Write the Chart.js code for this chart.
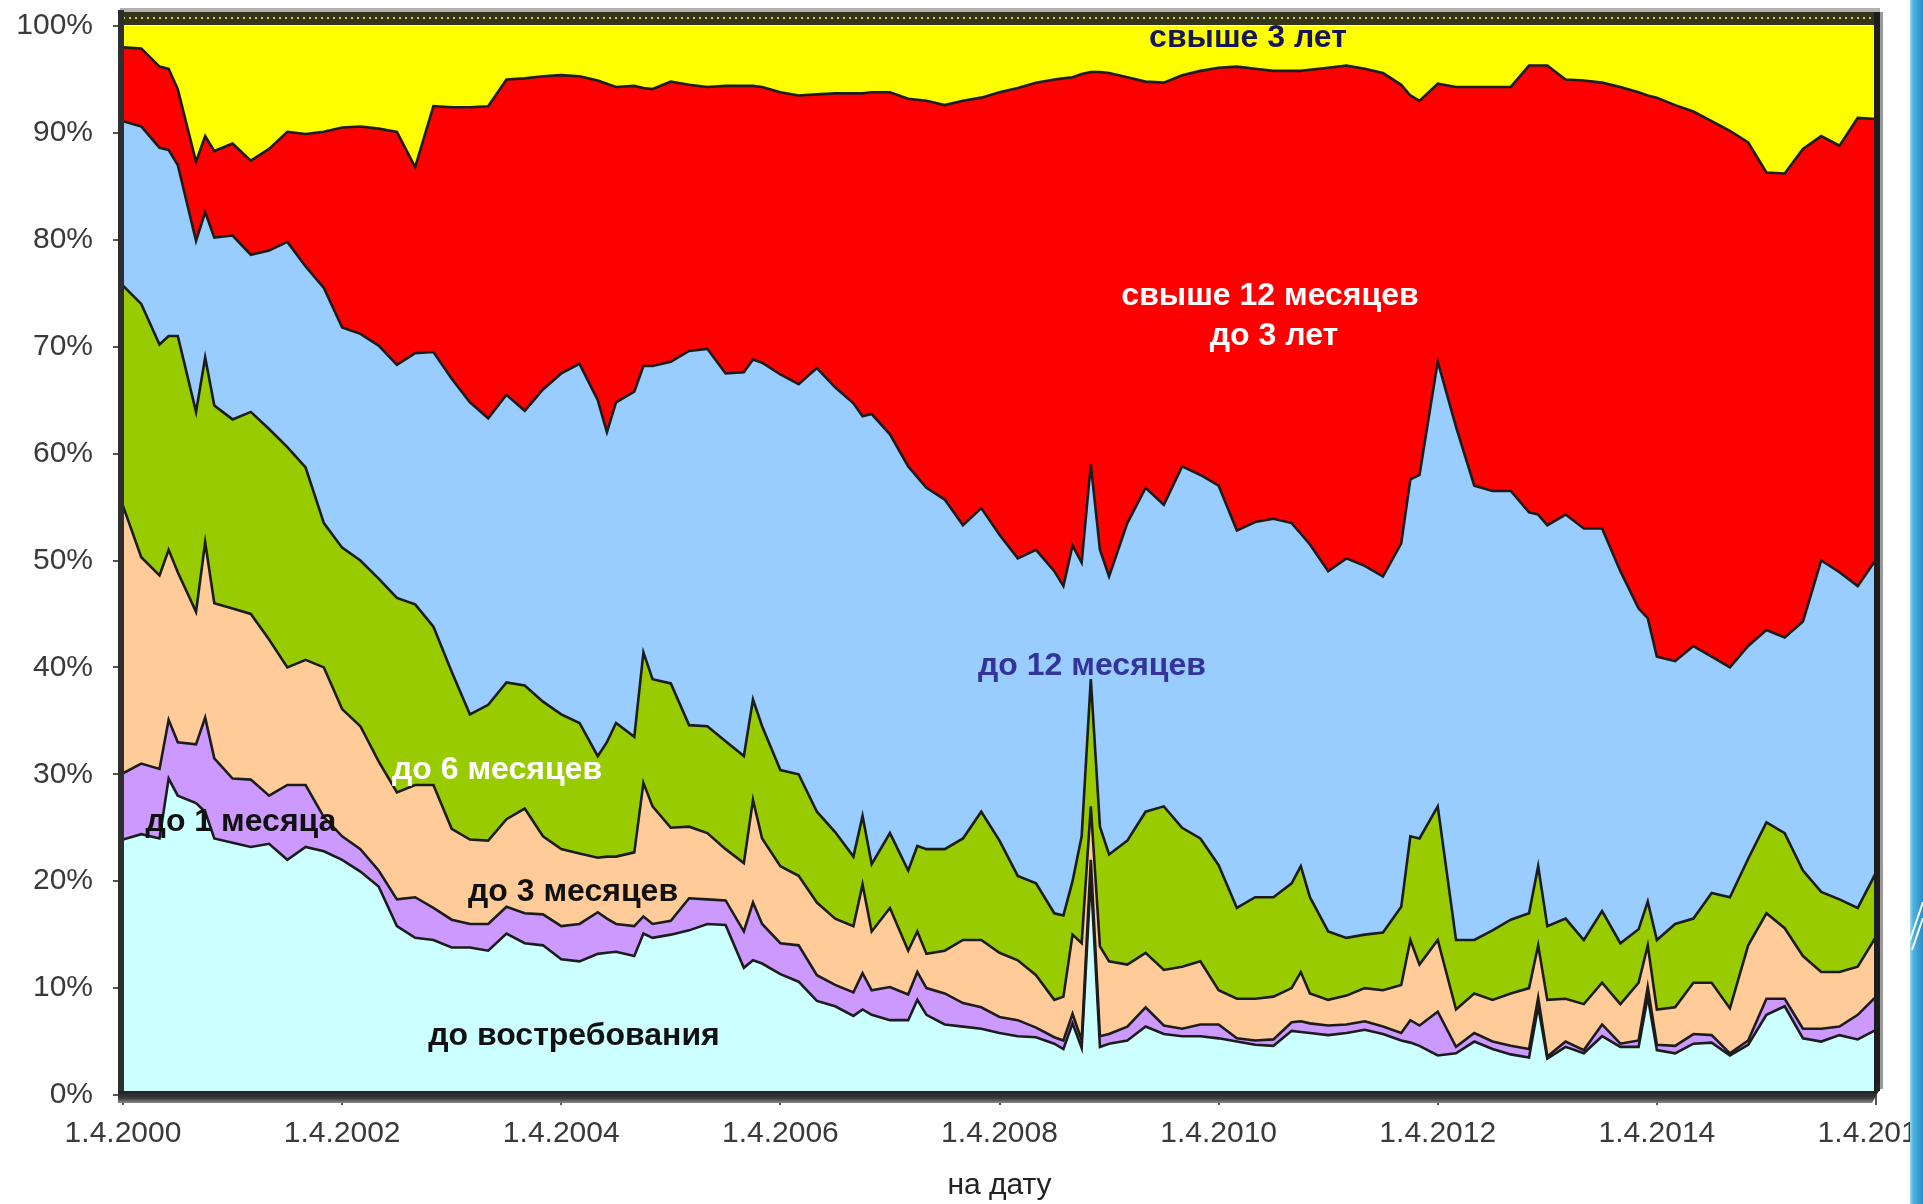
<!DOCTYPE html>
<html>
<head>
<meta charset="utf-8">
<script src="https://cdn.jsdelivr.net/npm/chart.js"></script>
<style>
  html, body { margin: 0; padding: 0; background: #fff; }
  body { width: 1923px; height: 1204px; position: relative; overflow: hidden; }
  #chart { position: absolute; left: 0; top: 0; }
  .edge { position: absolute; left: 1910px; top: 0; width: 13px; height: 1204px;
          background: linear-gradient(to right, #9adbf2 0px, #4fb3df 3px, #2a8bc4 13px); }
  .edge svg { position: absolute; left: 0; top: 0; }
</style>
</head>
<body>
<canvas id="chart" width="1923" height="1204" style="width:1923px;height:1204px"></canvas>
<div class="edge">
  <svg width="13" height="1204">
    <line x1="0" y1="940" x2="13" y2="902" stroke="#fff" stroke-width="2"/>
    <line x1="2" y1="950" x2="13" y2="918" stroke="#fff" stroke-width="2"/>
  </svg>
</div>
<script>
// months counted from 1.4.2000
const months = [0, 2, 4, 5, 6, 8, 9, 10,
  12, 14, 16, 18, 20, 22, 24, 26, 28, 30,
  32, 34, 36, 38, 40, 42, 44, 46, 48, 50,
  52, 53, 54, 56, 57, 58, 60, 62, 64, 66,
  68, 69, 70, 72, 74, 76, 78, 80, 81, 82,
  84, 86, 87, 88, 90, 92, 94, 96, 98, 100,
  102, 103, 104, 105, 106, 107, 108, 110, 112, 114,
  116, 118, 120, 122, 124, 126, 128, 129, 130, 132,
  134, 136, 138, 140, 141, 142, 144, 146, 148, 150,
  152, 154, 155, 156, 158, 160, 162, 164, 166, 167,
  168, 170, 172, 174, 176, 178, 180, 182, 184, 186,
  188, 190, 192];

const tickLabels = ['1.4.2000', '1.4.2002', '1.4.2004', '1.4.2006', '1.4.2008',
  '1.4.2010', '1.4.2012', '1.4.2014', '1.4.2016'];

const seriesNames = ['до востребования', 'до 1 месяца', 'до 3 месяцев', 'до 6 месяцев',
  'до 12 месяцев', 'свыше 12 месяцев до 3 лет', 'свыше 3 лет'];

// upper edge of each band, cumulative %
const uptoDemand = [23.9, 24.4, 24.0, 29.6, 28.0, 27.3, 26.5, 24.0,
  23.6, 23.2, 23.5, 22.0, 23.2, 22.8, 22.0, 20.9, 19.5, 15.8,
  14.7, 14.5, 13.8, 13.8, 13.5, 15.1, 14.2, 14.0, 12.7, 12.5,
  13.2, 13.3, 13.4, 13.0, 15.1, 14.7, 15.0, 15.4, 16.0, 15.9,
  11.9, 12.6, 12.3, 11.3, 10.6, 8.8, 8.3, 7.4, 8.0, 7.5,
  7.0, 7.0, 8.9, 7.5, 6.6, 6.4, 6.2, 5.8, 5.5, 5.4,
  4.8, 4.3, 6.7, 4.4, 20.5, 4.5, 4.8, 5.1, 6.4, 5.7,
  5.5, 5.5, 5.3, 5.0, 4.7, 4.6, 6.0, 5.9, 5.8, 5.6,
  5.8, 6.1, 5.7, 5.1, 4.9, 4.6, 3.7, 3.9, 5.0, 4.3,
  3.8, 3.5, 8.3, 3.4, 4.5, 3.9, 5.5, 4.5, 4.5, 9.2,
  4.2, 3.9, 4.8, 4.9, 3.7, 4.7, 7.5, 8.3, 5.3, 5.0,
  5.6, 5.2, 6.1];

const upto1m = [30.1, 31.0, 30.5, 35.1, 33.0, 32.8, 35.3, 31.5,
  29.6, 29.5, 28.0, 29.0, 29.0, 26.0, 24.2, 23.0, 21.0, 18.3,
  18.5, 17.5, 16.4, 16.0, 16.0, 17.6, 17.0, 16.9, 15.8, 16.0,
  17.1, 16.5, 16.0, 15.8, 16.7, 16.0, 16.3, 18.4, 18.3, 18.2,
  15.3, 18.0, 16.0, 14.2, 14.0, 11.2, 10.3, 9.6, 11.4, 9.8,
  10.1, 9.4, 11.5, 10.0, 9.5, 8.6, 8.2, 7.3, 7.0, 6.3,
  5.4, 5.1, 7.6, 5.1, 22.0, 5.5, 5.7, 6.4, 8.2, 6.5,
  6.2, 6.6, 6.6, 5.3, 5.1, 5.2, 6.8, 6.9, 6.7, 6.5,
  6.6, 6.9, 6.4, 5.8, 7.0, 6.5, 7.8, 4.5, 5.8, 5.0,
  4.6, 4.3, 9.1, 3.6, 5.0, 4.2, 6.6, 4.8, 5.1, 10.1,
  4.7, 4.6, 5.7, 5.6, 3.9, 5.1, 9.0, 9.0, 6.2, 6.2,
  6.4, 7.5, 9.2];

const upto3m = [55.1, 50.3, 48.6, 51.0, 48.9, 45.2, 51.7, 46.0,
  45.5, 45.0, 42.6, 40.0, 40.7, 40.0, 36.1, 34.5, 31.2, 28.3,
  29.0, 29.0, 24.9, 23.9, 23.8, 25.8, 26.8, 24.2, 23.0, 22.6,
  22.2, 22.3, 22.3, 22.7, 29.2, 27.0, 25.0, 25.1, 24.5, 23.0,
  21.7, 27.6, 24.0, 21.4, 20.5, 18.0, 16.5, 15.8, 19.7, 15.3,
  17.5, 13.5, 15.3, 13.2, 13.5, 14.5, 14.5, 13.3, 12.6, 11.2,
  8.9, 9.2, 15.0, 14.2, 27.0, 13.9, 12.5, 12.2, 13.3, 11.7,
  12.0, 12.5, 9.8, 9.0, 9.0, 9.2, 10.0, 11.5, 9.5, 8.9,
  9.3, 10.0, 9.8, 10.3, 14.5, 12.2, 14.5, 8.0, 9.5, 8.9,
  9.5, 10.0, 14.0, 8.9, 9.0, 8.5, 10.5, 8.5, 10.5, 14.0,
  8.0, 8.2, 10.5, 10.5, 8.1, 14.0, 17.0, 15.6, 13.0, 11.5,
  11.5, 12.0, 14.8];

const upto6m = [75.7, 74.0, 70.2, 71.0, 71.0, 63.9, 69.0, 64.5,
  63.2, 63.9, 62.3, 60.6, 58.7, 53.5, 51.2, 50.0, 48.3, 46.5,
  45.9, 43.8, 39.6, 35.6, 36.5, 38.6, 38.3, 36.8, 35.6, 34.8,
  31.7, 33.0, 34.8, 33.5, 41.4, 38.9, 38.5, 34.6, 34.5, 33.1,
  31.7, 37.0, 34.5, 30.4, 30.0, 26.5, 24.6, 22.3, 26.1, 21.6,
  24.5, 21.0, 23.3, 23.0, 23.0, 24.0, 26.5, 23.8, 20.5, 19.8,
  17.0, 16.8, 20.0, 24.2, 38.9, 25.1, 22.5, 23.8, 26.5, 27.0,
  25.0, 24.0, 21.5, 17.5, 18.5, 18.5, 19.8, 21.4, 18.5, 15.3,
  14.7, 15.0, 15.2, 17.6, 24.2, 24.0, 27.0, 14.5, 14.5, 15.4,
  16.4, 17.0, 21.4, 15.8, 16.5, 14.5, 17.2, 14.2, 15.5, 18.1,
  14.5, 16.0, 16.5, 18.9, 18.5, 22.1, 25.5, 24.5, 21.0, 19.0,
  18.3, 17.5, 20.8];

const upto12m = [91.1, 90.6, 88.6, 88.4, 87.0, 79.9, 82.6, 80.2,
  80.4, 78.6, 79.0, 79.8, 77.5, 75.5, 71.8, 71.2, 70.1, 68.3,
  69.4, 69.5, 67.0, 64.8, 63.3, 65.5, 64.0, 66.0, 67.5, 68.4,
  65.0, 62.0, 64.8, 65.8, 68.2, 68.2, 68.6, 69.6, 69.8, 67.5,
  67.6, 68.8, 68.5, 67.4, 66.5, 68.0, 66.2, 64.7, 63.5, 63.7,
  61.8, 58.8, 57.8, 56.8, 55.7, 53.3, 54.9, 52.4, 50.2, 51.0,
  49.0, 47.6, 51.4, 49.8, 59.0, 51.0, 48.5, 53.5, 56.8, 55.2,
  58.8, 58.0, 57.0, 52.8, 53.6, 53.9, 53.5, 52.5, 51.5, 49.0,
  50.2, 49.5, 48.5, 51.6, 57.6, 58.0, 68.6, 62.5, 57.0, 56.5,
  56.5, 54.5, 54.3, 53.3, 54.3, 53.0, 53.0, 49.0, 45.5, 44.6,
  41.0, 40.6, 42.0, 41.0, 40.0, 42.0, 43.5, 42.8, 44.3, 50.0,
  48.9, 47.6, 50.1];

const upto3y = [98.0, 97.9, 96.2, 96.0, 94.1, 87.3, 89.7, 88.3,
  89.0, 87.4, 88.5, 90.1, 89.9, 90.1, 90.5, 90.6, 90.4, 90.1,
  86.8, 92.5, 92.4, 92.4, 92.5, 95.0, 95.1, 95.3, 95.4, 95.3,
  94.9, 94.6, 94.3, 94.4, 94.2, 94.1, 94.8, 94.5, 94.3, 94.4,
  94.4, 94.4, 94.3, 93.8, 93.5, 93.6, 93.7, 93.7, 93.7, 93.8,
  93.8, 93.2, 93.1, 93.0, 92.6, 93.0, 93.3, 93.8, 94.2, 94.7,
  95.0, 95.1, 95.2, 95.5, 95.7, 95.7, 95.6, 95.2, 94.8, 94.7,
  95.4, 95.8, 96.1, 96.2, 96.0, 95.8, 95.8, 95.8, 95.9, 96.1,
  96.3, 96.0, 95.6, 94.5, 93.5, 93.0, 94.6, 94.3, 94.3, 94.3,
  94.3, 96.3, 96.3, 96.3, 95.0, 94.9, 94.7, 94.3, 93.8, 93.5,
  93.3, 92.6, 92.0, 91.1, 90.2, 89.1, 86.3, 86.2, 88.5, 89.7,
  88.8, 91.4, 91.3];

// the stack always closes at 100%
const total = months.map(() => 100);

const bandColors = ['#ccffff', '#cc99ff', '#ffcc99', '#99cc00', '#99ccff', '#ff0000', '#ffff00'];

// text written inside the bands
const areaLabels = [
  { text: 'свыше 3 лет', x: 1248, y: 38, color: '#15155a' },
  { text: 'свыше 12 месяцев', x: 1270, y: 296, color: '#ffffff' },
  { text: 'до 3 лет', x: 1274, y: 336, color: '#ffffff' },
  { text: 'до 12 месяцев', x: 1092, y: 666, color: '#333399' },
  { text: 'до 6 месяцев', x: 497, y: 770, color: '#ffffff' },
  { text: 'до 1 месяца', x: 241, y: 822, color: '#111111' },
  { text: 'до 3 месяцев', x: 573, y: 892, color: '#111111' },
  { text: 'до востребования', x: 574, y: 1036, color: '#111111' }
];

const levels = [uptoDemand, upto1m, upto3m, upto6m, upto12m, upto3y, total];
levels.forEach((arr, i) => {
  if (arr.length !== months.length) console.error('length mismatch', seriesNames[i], arr.length);
});

const datasets = levels.map((arr, i) => ({
  label: seriesNames[i],
  data: arr.map((v, k) => ({ x: months[k], y: v })),
  backgroundColor: bandColors[i],
  borderColor: '#1c1c1c',
  borderWidth: i === levels.length - 1 ? 0 : 2.6,
  fill: i === 0 ? 'origin' : '-1',
  pointRadius: 0,
  tension: 0
}));

// 3d-ish frame of the old excel chart + band captions
const frame = {
  id: 'frame',
  afterDatasetsDraw(chart) {
    const { ctx, chartArea: a } = chart;
    ctx.save();
    // top edge
    ctx.fillStyle = '#b0b0b0';
    ctx.fillRect(a.left - 3, a.top - 18, a.right - a.left + 7, 4);
    ctx.fillStyle = '#35351c';
    ctx.fillRect(a.left - 3, a.top - 14, a.right - a.left + 7, 13);
    ctx.strokeStyle = '#d6cf3a';
    ctx.lineWidth = 2;
    ctx.setLineDash([2, 4]);
    ctx.beginPath();
    ctx.moveTo(a.left, a.top - 8);
    ctx.lineTo(a.right, a.top - 8);
    ctx.stroke();
    ctx.setLineDash([]);
    // left wall
    ctx.fillStyle = '#2e2e2e';
    ctx.fillRect(a.left - 5, a.top - 16, 6, a.bottom - a.top + 23);
    // right wall
    ctx.fillStyle = '#1d1d1d';
    ctx.fillRect(a.right - 2, a.top - 14, 6, a.bottom - a.top + 10);
    ctx.fillStyle = '#9a9a9a';
    ctx.fillRect(a.right + 4, a.top - 14, 3, a.bottom - a.top + 8);
    // floor
    const g = ctx.createLinearGradient(0, a.bottom - 4, 0, a.bottom + 8);
    g.addColorStop(0, '#222');
    g.addColorStop(0.6, '#3a3a3a');
    g.addColorStop(1, '#8a8a8a');
    ctx.fillStyle = g;
    ctx.beginPath();
    ctx.moveTo(a.left - 5, a.bottom - 4);
    ctx.lineTo(a.right - 2, a.bottom - 4);
    ctx.lineTo(a.right + 4, a.bottom - 14);
    ctx.lineTo(a.right + 4, a.bottom - 6);
    ctx.lineTo(a.right - 4, a.bottom + 8);
    ctx.lineTo(a.left - 5, a.bottom + 8);
    ctx.closePath();
    ctx.fill();
    // captions
    ctx.font = 'bold 32px "Liberation Sans", Arial, sans-serif';
    ctx.textAlign = 'center';
    ctx.textBaseline = 'middle';
    areaLabels.forEach(l => {
      ctx.fillStyle = l.color;
      ctx.fillText(l.text, l.x, l.y);
    });
    ctx.restore();
  }
};

Chart.defaults.font.family = '"Liberation Sans", Arial, sans-serif';

new Chart(document.getElementById('chart'), {
  type: 'line',
  data: { datasets },
  options: {
    responsive: false,
    animation: false,
    devicePixelRatio: 1,
    layout: { padding: { left: 0, right: 47, top: 26, bottom: 0 } },
    plugins: {
      legend: { display: false },
      tooltip: { enabled: false },
      filler: { drawTime: 'beforeDatasetsDraw' }
    },
    scales: {
      x: {
        type: 'linear',
        min: 0,
        max: 192,
        afterBuildTicks: s => { s.ticks = tickLabels.map((_, i) => ({ value: i * 24 })); },
        ticks: {
          autoSkip: false,
          maxRotation: 0,
          padding: 11,
          color: '#3a3a3a',
          font: { size: 30 },
          callback: v => tickLabels[v / 24]
        },
        grid: { drawOnChartArea: false, tickLength: 10, color: '#555', lineWidth: 2 },
        border: { display: false },
        title: { display: true, text: 'на дату', color: '#222', font: { size: 30 }, padding: { top: 0, bottom: 0 } },
        afterFit: s => { s.height = 109; s.paddingLeft = 0; s.paddingRight = 0; }
      },
      y: {
        min: 0,
        max: 100,
        ticks: { stepSize: 10, padding: 20, color: '#3a3a3a', font: { size: 30 }, callback: v => v + '%' },
        grid: { drawOnChartArea: false, tickLength: 10, color: '#555', lineWidth: 2 },
        border: { display: false },
        afterFit: s => { s.width = 123; s.paddingTop = 0; s.paddingBottom = 0; }
      }
    }
  },
  plugins: [frame]
});
</script>
</body>
</html>
